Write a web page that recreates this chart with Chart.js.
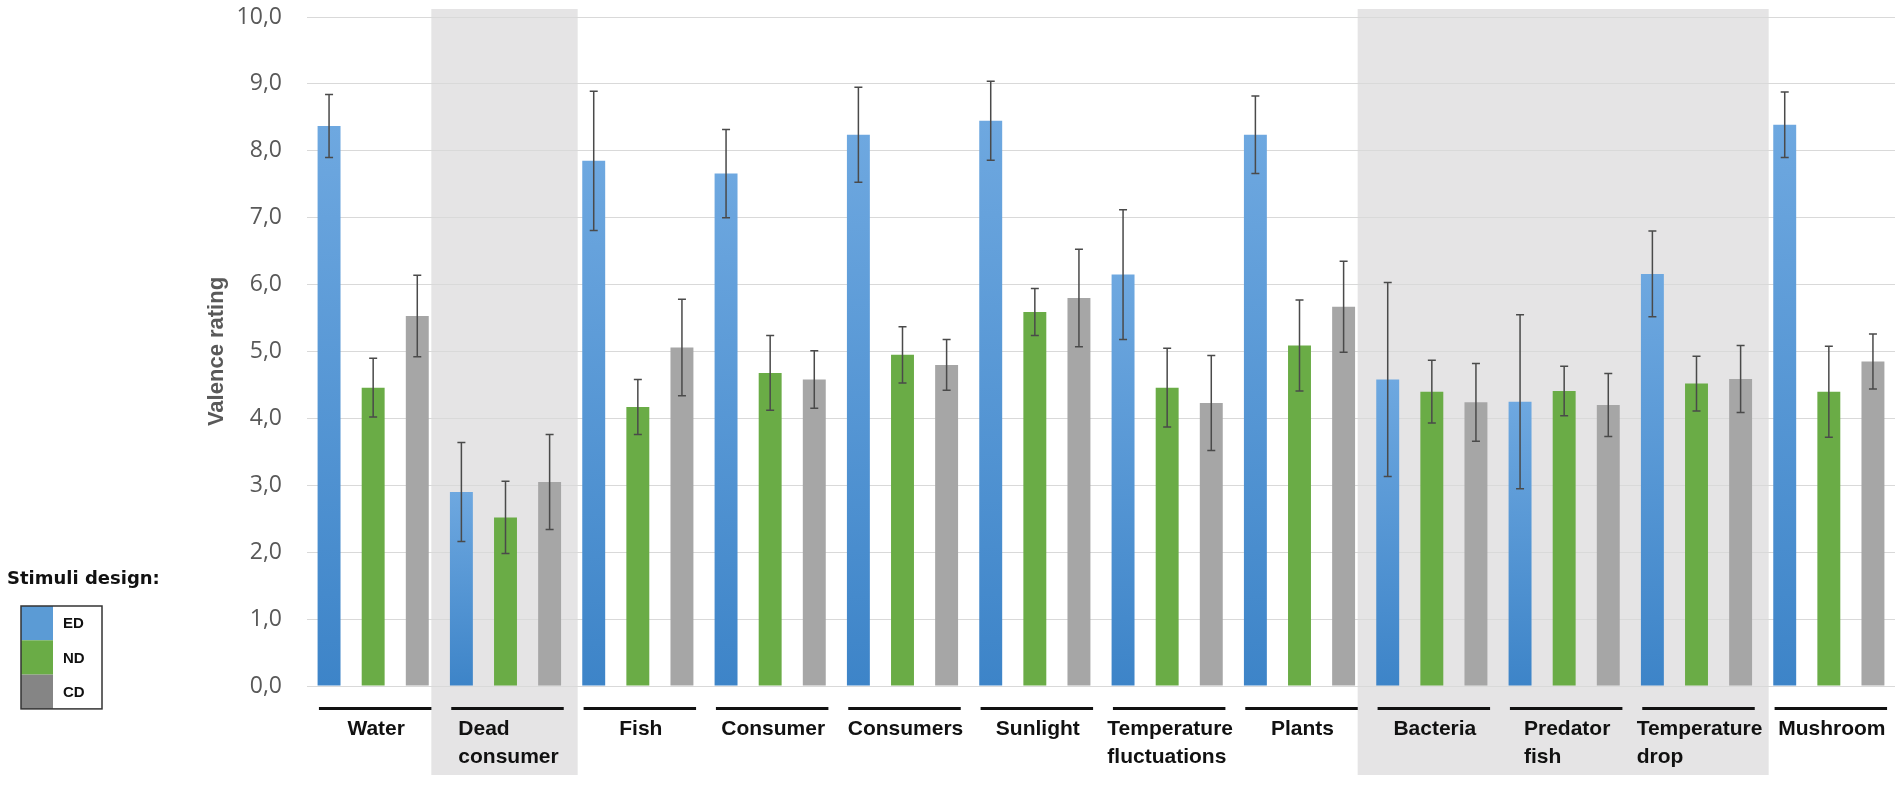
<!DOCTYPE html>
<html>
<head>
<meta charset="utf-8">
<script src="https://cdn.jsdelivr.net/npm/chart.js@4.4.1/dist/chart.umd.min.js"></script>
<style>
  html, body { margin: 0; padding: 0; background: #fff; }
  #wrap { width: 1902px; height: 788px; position: relative; }
</style>
</head>
<body>
<div id="wrap"><canvas id="valenceChart"></canvas></div>
<script>
// categorias (multi-linha quando o rótulo quebra)
const categories = [
    'Water', ['Dead', 'consumer'], 'Fish', 'Consumer', 'Consumers', 'Sunlight',
    ['Temperature', 'fluctuations'], 'Plants', 'Bacteria', ['Predator', 'fish'],
    ['Temperature', 'drop'], 'Mushroom'
];
const seriesLabels = ['ED', 'ND', 'CD'];

const edValues = [8.37, 2.90, 7.85, 7.66, 8.24, 8.45, 6.15, 8.24, 4.58, 4.25, 6.16, 8.39];
const ndValues = [4.46, 2.52, 4.17, 4.68, 4.95, 5.59, 4.46, 5.09, 4.40, 4.41, 4.52, 4.40];
const cdValues = [5.53, 3.05, 5.06, 4.58, 4.80, 5.80, 4.23, 5.67, 4.24, 4.20, 4.59, 4.85];

// meia-largura das barras de erro
const edErrors = [0.47, 0.74, 1.04, 0.66, 0.71, 0.59, 0.97, 0.58, 1.45, 1.30, 0.64, 0.49];
const ndErrors = [0.44, 0.54, 0.41, 0.56, 0.42, 0.35, 0.59, 0.68, 0.47, 0.37, 0.41, 0.68];
const cdErrors = [0.61, 0.71, 0.72, 0.43, 0.38, 0.73, 0.71, 0.68, 0.58, 0.47, 0.50, 0.41];

const yTicks = [0, 1, 2, 3, 4, 5, 6, 7, 8, 9, 10];
const yTitle = 'Valence rating';
const legendTitle = 'Stimuli design:';

// grupos com fundo cinza (índices de categoria, início/fim)
const shadedGroups = [[1, 1], [8, 10]];

const LABEL_FONT = 'bold 21px "Liberation Sans", Arial, sans-serif';

function blueGradient(c) {
    const chart = c.chart;
    const y = chart.scales && chart.scales.y;
    if (!chart.chartArea || !y || c.raw == null) return '#5b9bd5';
    const top = y.getPixelForValue(c.raw);
    const bottom = y.getPixelForValue(0);
    const g = chart.ctx.createLinearGradient(0, top, 0, bottom);
    g.addColorStop(0, '#6ea8e0');
    g.addColorStop(1, '#3d84c8');
    return g;
}

const shadingPlugin = {
    id: 'shading',
    beforeDraw(chart) {
        const { ctx, chartArea } = chart;
        const x = chart.scales.x;
        ctx.save();
        ctx.fillStyle = '#fff';
        ctx.fillRect(0, 0, chart.width, chart.height);
        const half = (x.getPixelForValue(1) - x.getPixelForValue(0)) / 2;
        ctx.fillStyle = '#e5e4e5';
        shadedGroups.forEach(([a, b]) => {
            const x0 = x.getPixelForValue(a) - half - 8;
            const x1 = x.getPixelForValue(b) + half + 6;
            const y0 = chartArea.top - 8;
            const y1 = chartArea.bottom + 89;
            ctx.fillRect(x0, y0, x1 - x0, y1 - y0);
        });
        ctx.restore();
    }
};

const errorBarPlugin = {
    id: 'errorBars',
    afterDatasetsDraw(chart) {
        const { ctx } = chart;
        const y = chart.scales.y;
        ctx.save();
        ctx.strokeStyle = '#4a4a4a';
        ctx.lineWidth = 1.5;
        chart.data.datasets.forEach((ds, i) => {
            const meta = chart.getDatasetMeta(i);
            meta.data.forEach((bar, j) => {
                const v = ds.data[j];
                const e = ds.errors[j];
                const yt = y.getPixelForValue(v + e);
                const yb = y.getPixelForValue(v - e);
                ctx.beginPath();
                ctx.moveTo(bar.x, yt); ctx.lineTo(bar.x, yb);
                ctx.moveTo(bar.x - 4, yt); ctx.lineTo(bar.x + 4, yt);
                ctx.moveTo(bar.x - 4, yb); ctx.lineTo(bar.x + 4, yb);
                ctx.stroke();
            });
        });
        ctx.restore();
    }
};

const categoryLabelPlugin = {
    id: 'categoryLabels',
    afterDraw(chart) {
        const { ctx, chartArea } = chart;
        const x = chart.scales.x;
        const step = x.getPixelForValue(1) - x.getPixelForValue(0);
        ctx.save();
        ctx.font = LABEL_FONT;
        ctx.fillStyle = '#111';
        ctx.textBaseline = 'middle';
        categories.forEach((cat, i) => {
            const cx = x.getPixelForValue(i);
            // traço preto sob o grupo
            ctx.fillRect(cx - step * 0.425 + 2, chartArea.bottom + 21, step * 0.85, 3);
            const lines = Array.isArray(cat) ? cat : [cat];
            const w = Math.max(...lines.map(l => ctx.measureText(l).width));
            ctx.textAlign = 'left';
            lines.forEach((l, k) => {
                ctx.fillText(l, cx - w / 2 + 3, chartArea.bottom + 43 + k * 28);
            });
        });
        ctx.restore();
    }
};

const boxLegendPlugin = {
    id: 'boxLegend',
    afterDraw(chart) {
        const { ctx } = chart;
        const left = 21, top = 606, swW = 32, boxW = 81, rowH = 34.3;
        ctx.save();
        ctx.fillStyle = '#111';
        ctx.font = 'bold 18px "DejaVu Sans", sans-serif';
        ctx.textBaseline = 'middle';
        ctx.textAlign = 'left';
        ctx.fillText(legendTitle, 7, 579);
        const swatches = ['#5b9bd5', '#6aac46', '#858585'];
        chart.data.datasets.forEach((ds, i) => {
            ctx.fillStyle = swatches[i];
            ctx.fillRect(left, top + i * rowH, swW, rowH);
            ctx.fillStyle = '#111';
            ctx.font = 'bold 15px "Liberation Sans", Arial, sans-serif';
            ctx.fillText(ds.label, left + swW + 10, top + i * rowH + rowH / 2 + 1);
        });
        ctx.strokeStyle = '#333';
        ctx.lineWidth = 1.5;
        ctx.strokeRect(left, top, boxW, rowH * 3);
        ctx.restore();
    }
};

new Chart(document.getElementById('valenceChart'), {
    type: 'bar',
    data: {
        labels: categories,
        datasets: [
            { label: seriesLabels[0], data: edValues, errors: edErrors, backgroundColor: blueGradient },
            { label: seriesLabels[1], data: ndValues, errors: ndErrors, backgroundColor: '#6aac46' },
            { label: seriesLabels[2], data: cdValues, errors: cdErrors, backgroundColor: '#a6a6a6' }
        ]
    },
    options: {
        responsive: true,
        maintainAspectRatio: false,
        animation: false,
        devicePixelRatio: 1,
        layout: { padding: { top: 0, right: 7, bottom: 102, left: 0 } },
        datasets: { bar: { categoryPercentage: 1.0, barPercentage: 0.52, borderWidth: 0 } },
        plugins: { legend: { display: false }, tooltip: { enabled: false } },
        scales: {
            x: { display: false, offset: true, grid: { display: false } },
            y: {
                min: 0, max: 10,
                afterFit: (s) => { s.width = 307; s.paddingTop = 17; s.paddingBottom = 0; },
                afterBuildTicks: (s) => { s.ticks = yTicks.map(v => ({ value: v })); },
                border: { display: false },
                grid: { color: '#d9d9d9', lineWidth: 1, drawTicks: false },
                ticks: {
                    padding: 25,
                    color: '#595959',
                    font: { family: '"Open Sans", sans-serif', size: 23 },
                    callback: (v) => Number(v).toFixed(1).replace('.', ',')
                },
                title: {
                    display: true,
                    text: yTitle,
                    color: '#595959',
                    font: { family: '"Liberation Sans", Arial, sans-serif', size: 22, weight: 'bold' },
                    padding: { top: 204, bottom: 0 }
                }
            }
        }
    },
    plugins: [shadingPlugin, errorBarPlugin, categoryLabelPlugin, boxLegendPlugin]
});
</script>
</body>
</html>
